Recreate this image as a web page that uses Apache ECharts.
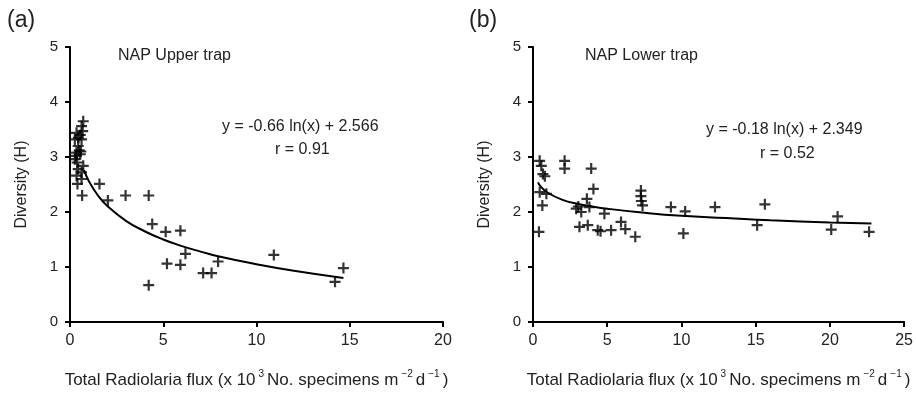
<!DOCTYPE html>
<html>
<head>
<meta charset="utf-8">
<script src="https://cdn.jsdelivr.net/npm/echarts@6/dist/echarts.min.js"></script>
<style>
  html, body { margin: 0; padding: 0; background: #fff; }
  #chart { width: 916px; height: 394px; }
</style>
</head>
<body>
<div id="chart"></div>
<script>
// (a) NAP Upper trap: flux (x10^3) vs diversity H
const upperFlux = [0.71, 0.62, 0.35, 0.55, 0.26, 0.62, 0.44, 0.35, 0.55, 0.26, 0.71, 0.44, 0.62, 0.35, 0.62, 0.40, 0.50, 0.30, 0.68, 0.45, 0.58, 0.38, 0.65,
  1.58, 2.03, 2.98, 4.22, 4.41, 5.13, 5.92, 6.19, 5.20, 5.92, 7.14, 7.59, 7.94, 10.93, 4.22, 14.21, 14.66]
const upperH = [3.65, 3.56, 3.44, 3.40, 3.32, 3.32, 3.20, 3.08, 3.05, 2.96, 2.84, 2.78, 2.72, 2.66, 2.60, 2.51, 3.12, 3.02, 3.47, 3.35, 3.10, 2.90, 2.30,
  2.51, 2.21, 2.30, 2.30, 1.78, 1.64, 1.66, 1.24, 1.06, 1.04, 0.89, 0.89, 1.10, 1.22, 0.67, 0.73, 0.98]
const upperFitX = [0.75, 1, 1.5, 2, 3, 4, 5, 6, 7, 8, 10, 12, 14.66]
const upperFitY = [2.76, 2.57, 2.30, 2.11, 1.84, 1.65, 1.50, 1.38, 1.28, 1.19, 1.05, 0.93, 0.80]

// (b) NAP Lower trap
const lowerFlux = [0.45, 0.56, 0.67, 0.80, 0.45, 0.90, 0.63, 0.40, 2.13, 2.13, 3.92, 4.07, 3.63, 3.80, 2.91, 3.05, 3.25, 4.81, 3.13, 3.69,
  4.36, 4.55, 5.26, 5.93, 6.22, 6.89, 7.27, 7.27, 7.30, 7.38, 9.29, 10.25, 10.13, 12.26, 15.62, 15.10, 20.52, 20.09, 22.64]
const lowerH = [2.93, 2.84, 2.69, 2.65, 2.36, 2.33, 2.12, 1.64, 2.93, 2.79, 2.79, 2.42, 2.24, 2.09, 2.06, 2.10, 2.00, 1.97, 1.73, 1.76,
  1.67, 1.65, 1.67, 1.82, 1.69, 1.55, 2.39, 2.29, 2.20, 2.12, 2.09, 2.01, 1.61, 2.09, 2.14, 1.76, 1.92, 1.68, 1.64]
const lowerFitX = [0.34, 0.5, 1, 2, 3, 4, 5, 7, 10, 13, 16, 20, 22.8]
const lowerFitY = [2.54, 2.47, 2.35, 2.22, 2.15, 2.10, 2.06, 2.00, 1.93, 1.89, 1.85, 1.81, 1.79]

const yTicks = [0, 1, 2, 3, 4, 5]

const font = 'Liberation Sans, Arial, sans-serif'
const plus = 'path://M4,0H6V4H10V6H6V10H4V6H0V4H4Z'

function pairs(xs, ys) {
  return xs.map((x, i) => [x, ys[i]])
}

function xAxis(gridIndex, max, interval) {
  return {
    type: 'value', gridIndex, min: 0, max, interval,
    name: '{n|Total Radiolaria flux (x 10}{s|3}{n|No. specimens m}{s|−2}{n|d}{s|−1}{n|)}',
    nameLocation: 'middle', nameGap: 44,
    nameTextStyle: {
      rich: {
        n: { fontFamily: font, fontSize: 17, color: '#222', padding: [6, 0, 0, 0] },
        s: { fontFamily: font, fontSize: 10, color: '#222', padding: [0, 3, 7, 3] }
      }
    },
    axisLine: { show: true, onZero: false, lineStyle: { color: '#000', width: 2 } },
    axisTick: { show: true, length: 5, lineStyle: { color: '#000', width: 2 } },
    axisLabel: { fontFamily: font, fontSize: 16, color: '#222', margin: 11 },
    splitLine: { show: false }
  }
}

function yAxis(gridIndex) {
  return {
    type: 'value', gridIndex, min: 0, max: 5, interval: 1,
    name: 'Diversity (H)', nameLocation: 'middle', nameGap: 40, nameRotate: 90,
    nameTextStyle: { fontFamily: font, fontSize: 16, color: '#222' },
    axisLine: { show: true, onZero: false, lineStyle: { color: '#000', width: 2 } },
    axisTick: { show: true, length: 5, lineStyle: { color: '#000', width: 2 } },
    axisLabel: { fontFamily: font, fontSize: 15, color: '#222', margin: 12,
      formatter: v => yTicks.includes(v) ? String(v) : '' },
    splitLine: { show: false }
  }
}

function text(left, top, str, size) {
  return { type: 'text', left, top, style: { text: str, fontFamily: font, fontSize: size, fill: '#222' } }
}

const chart = echarts.init(document.getElementById('chart'))
chart.setOption({
  backgroundColor: '#fff',
  animation: false,
  grid: [
    { left: 70, right: 473, top: 47, bottom: 69 },
    { left: 533, right: 10, top: 47, bottom: 69 }
  ],
  xAxis: [xAxis(0, 20, 5), xAxis(1, 25, 5)],
  yAxis: [yAxis(0), yAxis(1)],
  graphic: [
    text(7, 9, '(a)', 23),
    text(469, 9, '(b)', 23),
    text(118, 48, 'NAP Upper trap', 16),
    text(585, 48, 'NAP Lower trap', 16),
    text(222, 119, 'y = -0.66 ln(x) + 2.566', 16),
    text(275, 142, 'r = 0.91', 16),
    text(706, 122, 'y = -0.18 ln(x) + 2.349', 16),
    text(760, 146, 'r = 0.52', 16)
  ],
  series: [
    { type: 'scatter', xAxisIndex: 0, yAxisIndex: 0, data: pairs(upperFlux, upperH),
      symbol: plus, symbolSize: 11, itemStyle: { color: '#000' } },
    { type: 'line', xAxisIndex: 0, yAxisIndex: 0, data: pairs(upperFitX, upperFitY),
      smooth: true, showSymbol: false, lineStyle: { color: '#000', width: 2 } },
    { type: 'scatter', xAxisIndex: 1, yAxisIndex: 1, data: pairs(lowerFlux, lowerH),
      symbol: plus, symbolSize: 11, itemStyle: { color: '#000' } },
    { type: 'line', xAxisIndex: 1, yAxisIndex: 1, data: pairs(lowerFitX, lowerFitY),
      smooth: true, showSymbol: false, lineStyle: { color: '#000', width: 2 } }
  ]
})
</script>
</body>
</html>
